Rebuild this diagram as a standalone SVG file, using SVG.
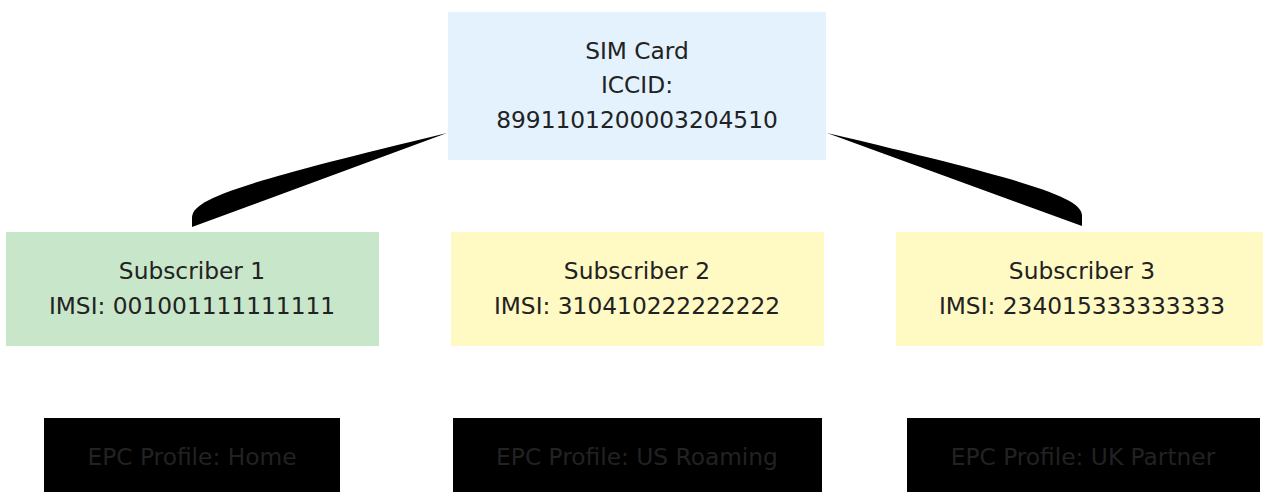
<svg xmlns="http://www.w3.org/2000/svg" width="1263" height="492" viewBox="0 0 1263 492">
<style>
text{font-family:"DejaVu Sans",sans-serif;font-size:23.3px;fill:#222;text-anchor:middle}
.sim{fill:#E3F2FD}
.home{fill:#C8E6C9}
.roam{fill:#FFF9C4}
.epc{fill:#000}
.wedge{fill:#000}
</style>
<rect width="1263" height="492" fill="#fff"/>
<g id="connectors">
<path class="wedge" d="M447,133 L192,227 L192,218 C192,200 230,185 447,133 Z"/>
<path class="wedge" d="M827,133 L1082,226 L1082,216 C1082,199 1044,184 827,133 Z"/>
</g>
<g id="sim">
<rect class="sim" x="448" y="12" width="378" height="148"/>
<text x="637" y="59">SIM Card</text>
<text x="637" y="93">ICCID:</text>
<text x="637" y="128">8991101200003204510</text>
</g>
<g id="sub1">
<rect class="home" x="6" y="232" width="373" height="114"/>
<text x="192" y="279">Subscriber 1</text>
<text x="192" y="314">IMSI: 001001111111111</text>
</g>
<g id="sub2">
<rect class="roam" x="451" y="232" width="373" height="114"/>
<text x="637" y="279">Subscriber 2</text>
<text x="637" y="314">IMSI: 310410222222222</text>
</g>
<g id="sub3">
<rect class="roam" x="896" y="232" width="367" height="114"/>
<text x="1082" y="279">Subscriber 3</text>
<text x="1082" y="314">IMSI: 234015333333333</text>
</g>
<g id="epc1">
<rect class="epc" x="44" y="418" width="296" height="74"/>
<text x="192" y="465">EPC Profile: Home</text>
</g>
<g id="epc2">
<rect class="epc" x="453" y="418" width="369" height="74"/>
<text x="637" y="465">EPC Profile: US Roaming</text>
</g>
<g id="epc3">
<rect class="epc" x="907" y="418" width="353" height="74"/>
<text x="1083" y="465">EPC Profile: UK Partner</text>
</g>
</svg>
